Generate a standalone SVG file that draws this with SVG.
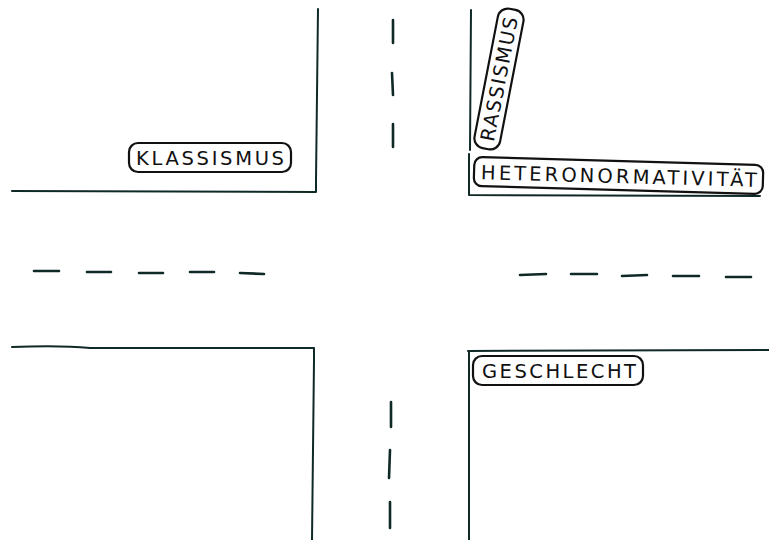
<svg xmlns="http://www.w3.org/2000/svg" width="769" height="540" viewBox="0 0 769 540">
<style>
.ln{fill:none;stroke:#0f2a26;stroke-width:2;stroke-linecap:round;stroke-linejoin:round}
.ds{fill:none;stroke:#0f2a26;stroke-width:2.6;stroke-linecap:round}
.box{fill:#fff;stroke:#111;stroke-width:2.2}
.t{font-family:"DejaVu Sans","Liberation Sans",sans-serif;font-size:19.5px;fill:#111}
</style>
<rect width="769" height="540" fill="#fff"/>
<g id="blocks">
<path class="ln" d="M318,9 Q317,100 316,180 L316,192 L12,191"/>
<path class="ln" d="M471,10 L470,150"/>
<path class="ln" d="M469,154 L469,195 L760,196"/>
<path class="ln" d="M12,347 Q60,345 90,348 L314,348 L314,360 L312,540"/>
<path class="ln" d="M468,351 L769,350"/>
<path class="ln" d="M469,351 L469,540"/>
</g>
<g id="connectors">
<path class="ds" d="M34,271 L59,271 M87,272 L111,272 M139,273 L163,273 M190,272 L214,272 M240,273 L264,274"/>
<path class="ds" d="M520,275 L546,274 M571,274 L597,274 M622,276 L647,275 M673,276 L699,276 M726,277 L751,277"/>
<path class="ds" d="M393,20 L393,43 M392,73 L393,95 M393,124 L393,147"/>
<path class="ds" d="M391,402 L391,427 M390,450 L389,478 M390,502 L390,528"/>
</g>
<g id="klassismus">
<rect class="box" x="129" y="143" width="162" height="29" rx="9"/>
<text class="t" x="136" y="165" textLength="148" lengthAdjust="spacing">KLASSISMUS</text>
</g>
<g id="rassismus">
<g transform="translate(499,79) rotate(-79)">
<rect class="box" x="-71" y="-13" width="142" height="26" rx="10"/>
<text class="t" x="-63" y="7" textLength="126" lengthAdjust="spacing">RASSISMUS</text>
</g>
</g>
<g id="heteronormativitaet">
<g transform="translate(619,176) rotate(1.6)">
<rect class="box" x="-145" y="-15" width="289" height="29" rx="8"/>
<text class="t" x="-138" y="7" textLength="276" lengthAdjust="spacing">HETERONORMATIVITÄT</text>
</g>
</g>
<g id="geschlecht">
<rect class="box" x="473" y="356" width="170" height="29" rx="9"/>
<text class="t" x="482" y="378" textLength="154" lengthAdjust="spacing">GESCHLECHT</text>
</g>
</svg>
